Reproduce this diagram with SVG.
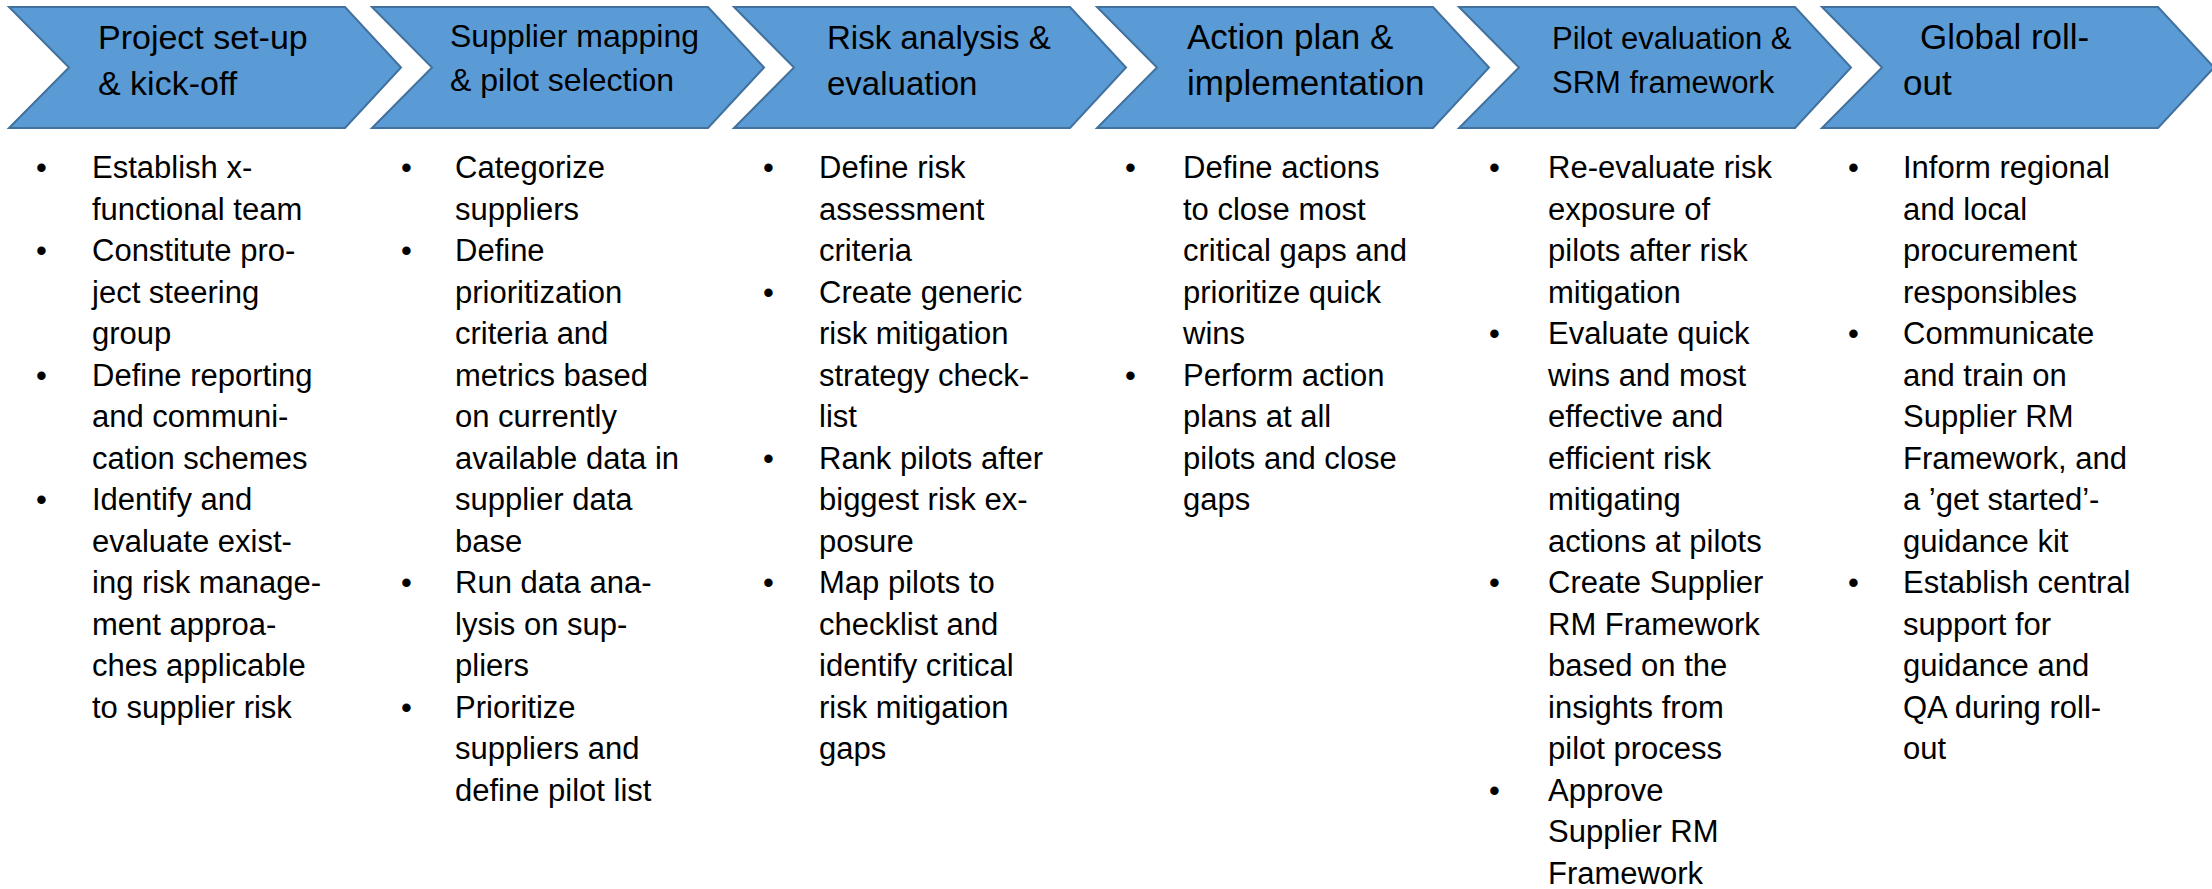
<svg xmlns="http://www.w3.org/2000/svg" width="2212" height="889" viewBox="0 0 2212 889">
<style>
.chev{fill:#5B9BD5;stroke:#41719C;stroke-width:2;stroke-linejoin:miter}
.t{font-family:"Liberation Sans",Arial,sans-serif;fill:#000}
.b{font-family:"Liberation Sans",Arial,sans-serif;font-size:31px;fill:#000}
</style>
<rect width="2212" height="889" fill="#fff"/>
<defs>
<path id="chevron" d="M0,7 L336,7 L392,67.5 L336,128 L0,128 L60,67.5 Z"/>
</defs>
<g id="connectors"/>
<g id="step1">
<use href="#chevron" class="chev" x="9"/>
<text class="t" font-size="34" x="98" y="49">Project set-up</text>
<text class="t" font-size="34" x="98" y="95">&amp; kick-off</text>
</g>
<g id="step2">
<use href="#chevron" class="chev" x="372"/>
<text class="t" font-size="32" x="450" y="47">Supplier mapping</text>
<text class="t" font-size="32" x="450" y="91">&amp; pilot selection</text>
</g>
<g id="step3">
<use href="#chevron" class="chev" x="734"/>
<text class="t" font-size="33" x="827" y="49">Risk analysis &amp;</text>
<text class="t" font-size="33" x="827" y="95">evaluation</text>
</g>
<g id="step4">
<use href="#chevron" class="chev" x="1097"/>
<text class="t" font-size="35" x="1187" y="49">Action plan &amp;</text>
<text class="t" font-size="35" x="1187" y="95">implementation</text>
</g>
<g id="step5">
<use href="#chevron" class="chev" x="1459"/>
<text class="t" font-size="31" x="1552" y="49">Pilot evaluation &amp;</text>
<text class="t" font-size="31" x="1552" y="93">SRM framework</text>
</g>
<g id="step6">
<use href="#chevron" class="chev" x="1822"/>
<text class="t" font-size="35" x="1920" y="49">Global roll-</text>
<text class="t" font-size="35" x="1903" y="95">out</text>
</g>
<g id="list1" class="b">
<text x="36" y="178">•</text><text x="36" y="261">•</text><text x="36" y="385.5">•</text><text x="36" y="510">•</text>
<text x="92" y="178">Establish x-</text>
<text x="92" y="219.5">functional team</text>
<text x="92" y="261">Constitute pro-</text>
<text x="92" y="302.5">ject steering</text>
<text x="92" y="344">group</text>
<text x="92" y="385.5">Define reporting</text>
<text x="92" y="427">and communi-</text>
<text x="92" y="468.5">cation schemes</text>
<text x="92" y="510">Identify and</text>
<text x="92" y="551.5">evaluate exist-</text>
<text x="92" y="593">ing risk manage-</text>
<text x="92" y="634.5">ment approa-</text>
<text x="92" y="676">ches applicable</text>
<text x="92" y="717.5">to supplier risk</text>
</g>
<g id="list2" class="b">
<text x="401" y="178">•</text><text x="401" y="261">•</text><text x="401" y="593">•</text><text x="401" y="717.5">•</text>
<text x="455" y="178">Categorize</text>
<text x="455" y="219.5">suppliers</text>
<text x="455" y="261">Define</text>
<text x="455" y="302.5">prioritization</text>
<text x="455" y="344">criteria and</text>
<text x="455" y="385.5">metrics based</text>
<text x="455" y="427">on currently</text>
<text x="455" y="468.5">available data in</text>
<text x="455" y="510">supplier data</text>
<text x="455" y="551.5">base</text>
<text x="455" y="593">Run data ana-</text>
<text x="455" y="634.5">lysis on sup-</text>
<text x="455" y="676">pliers</text>
<text x="455" y="717.5">Prioritize</text>
<text x="455" y="759">suppliers and</text>
<text x="455" y="800.5">define pilot list</text>
</g>
<g id="list3" class="b">
<text x="763" y="178">•</text><text x="763" y="302.5">•</text><text x="763" y="468.5">•</text><text x="763" y="593">•</text>
<text x="819" y="178">Define risk</text>
<text x="819" y="219.5">assessment</text>
<text x="819" y="261">criteria</text>
<text x="819" y="302.5">Create generic</text>
<text x="819" y="344">risk mitigation</text>
<text x="819" y="385.5">strategy check-</text>
<text x="819" y="427">list</text>
<text x="819" y="468.5">Rank pilots after</text>
<text x="819" y="510">biggest risk ex-</text>
<text x="819" y="551.5">posure</text>
<text x="819" y="593">Map pilots to</text>
<text x="819" y="634.5">checklist and</text>
<text x="819" y="676">identify critical</text>
<text x="819" y="717.5">risk mitigation</text>
<text x="819" y="759">gaps</text>
</g>
<g id="list4" class="b">
<text x="1125" y="178">•</text><text x="1125" y="385.5">•</text>
<text x="1183" y="178">Define actions</text>
<text x="1183" y="219.5">to close most</text>
<text x="1183" y="261">critical gaps and</text>
<text x="1183" y="302.5">prioritize quick</text>
<text x="1183" y="344">wins</text>
<text x="1183" y="385.5">Perform action</text>
<text x="1183" y="427">plans at all</text>
<text x="1183" y="468.5">pilots and close</text>
<text x="1183" y="510">gaps</text>
</g>
<g id="list5" class="b">
<text x="1489" y="178">•</text><text x="1489" y="344">•</text><text x="1489" y="593">•</text><text x="1489" y="800.5">•</text>
<text x="1548" y="178">Re-evaluate risk</text>
<text x="1548" y="219.5">exposure of</text>
<text x="1548" y="261">pilots after risk</text>
<text x="1548" y="302.5">mitigation</text>
<text x="1548" y="344">Evaluate quick</text>
<text x="1548" y="385.5">wins and most</text>
<text x="1548" y="427">effective and</text>
<text x="1548" y="468.5">efficient risk</text>
<text x="1548" y="510">mitigating</text>
<text x="1548" y="551.5">actions at pilots</text>
<text x="1548" y="593">Create Supplier</text>
<text x="1548" y="634.5">RM Framework</text>
<text x="1548" y="676">based on the</text>
<text x="1548" y="717.5">insights from</text>
<text x="1548" y="759">pilot process</text>
<text x="1548" y="800.5">Approve</text>
<text x="1548" y="842">Supplier RM</text>
<text x="1548" y="883.5">Framework</text>
</g>
<g id="list6" class="b">
<text x="1848" y="178">•</text><text x="1848" y="344">•</text><text x="1848" y="593">•</text>
<text x="1903" y="178">Inform regional</text>
<text x="1903" y="219.5">and local</text>
<text x="1903" y="261">procurement</text>
<text x="1903" y="302.5">responsibles</text>
<text x="1903" y="344">Communicate</text>
<text x="1903" y="385.5">and train on</text>
<text x="1903" y="427">Supplier RM</text>
<text x="1903" y="468.5">Framework, and</text>
<text x="1903" y="510">a ’get started’-</text>
<text x="1903" y="551.5">guidance kit</text>
<text x="1903" y="593">Establish central</text>
<text x="1903" y="634.5">support for</text>
<text x="1903" y="676">guidance and</text>
<text x="1903" y="717.5">QA during roll-</text>
<text x="1903" y="759">out</text>
</g>
</svg>
